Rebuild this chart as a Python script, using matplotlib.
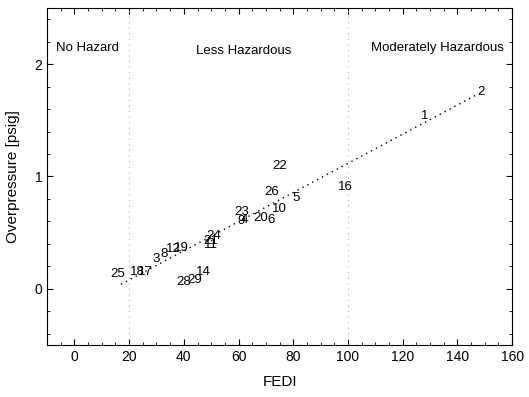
import matplotlib
matplotlib.use("Agg")
import matplotlib.pyplot as plt
from matplotlib.ticker import MultipleLocator

plt.rcParams['font.family'] = ['Liberation Sans', 'DejaVu Sans']

# point labels and their positions (FEDI, overpressure)
labels = ["1", "2", "22", "16", "26", "5", "10", "23", "4", "9", "20", "6",
          "24", "21", "11", "3", "8", "12", "19", "25", "18", "17", "14", "28", "29"]
fedi = [128, 148.5, 75, 99, 72, 81, 75, 61, 62, 61, 68, 72,
        51, 50, 50, 29.7, 32.6, 36, 39, 15.8, 23, 26, 47, 40, 44]
overpressure = [1.54, 1.75, 1.09, 0.91, 0.86, 0.81, 0.71, 0.68, 0.61, 0.60, 0.63, 0.61,
                0.47, 0.43, 0.39, 0.265, 0.31, 0.35, 0.36, 0.13, 0.15, 0.15, 0.15, 0.06, 0.08]

# fitted trend line
fit_x = [17, 146.5]
fit_y = [0.04, 1.72]

# hazard zone boundaries and names
zone_bounds = [20, 100]
zone_names = ["No Hazard", "Less Hazardous", "Moderately Hazardous"]
zone_x = [4.8, 62, 132.6]
zone_y = [2.14, 2.12, 2.14]

fig = plt.figure(figsize=(5.29, 3.97), dpi=100)
ax = fig.add_axes([0.089, 0.131, 0.879, 0.849])

for b in zone_bounds:
    ax.axvline(b, color='#b0b0b0', linestyle=(0, (1, 4)), linewidth=0.8)

ax.plot(fit_x, fit_y, color='black', linestyle=(0, (1, 3)), linewidth=1.0)

for lab, x, y in zip(labels, fedi, overpressure):
    ax.text(x, y, lab, ha='center', va='center', fontsize=9.5)

for name, x, y in zip(zone_names, zone_x, zone_y):
    ax.text(x, y, name, ha='center', va='center', fontsize=9.5)

ax.set_xlim(-10, 160)
ax.set_ylim(-0.5, 2.5)
ax.xaxis.set_major_locator(MultipleLocator(20))
ax.xaxis.set_minor_locator(MultipleLocator(5))
ax.yaxis.set_major_locator(MultipleLocator(1))
ax.yaxis.set_minor_locator(MultipleLocator(0.2))
ax.tick_params(which='both', direction='in', top=True, right=True, labelsize=10)
ax.tick_params(which='major', length=4)
ax.tick_params(which='minor', length=2.5)

ax.set_xlabel('FEDI', fontsize=11, labelpad=8)
ax.set_ylabel('Overpressure [psig]', fontsize=11, labelpad=10)

fig.savefig('out.png', dpi=100)
